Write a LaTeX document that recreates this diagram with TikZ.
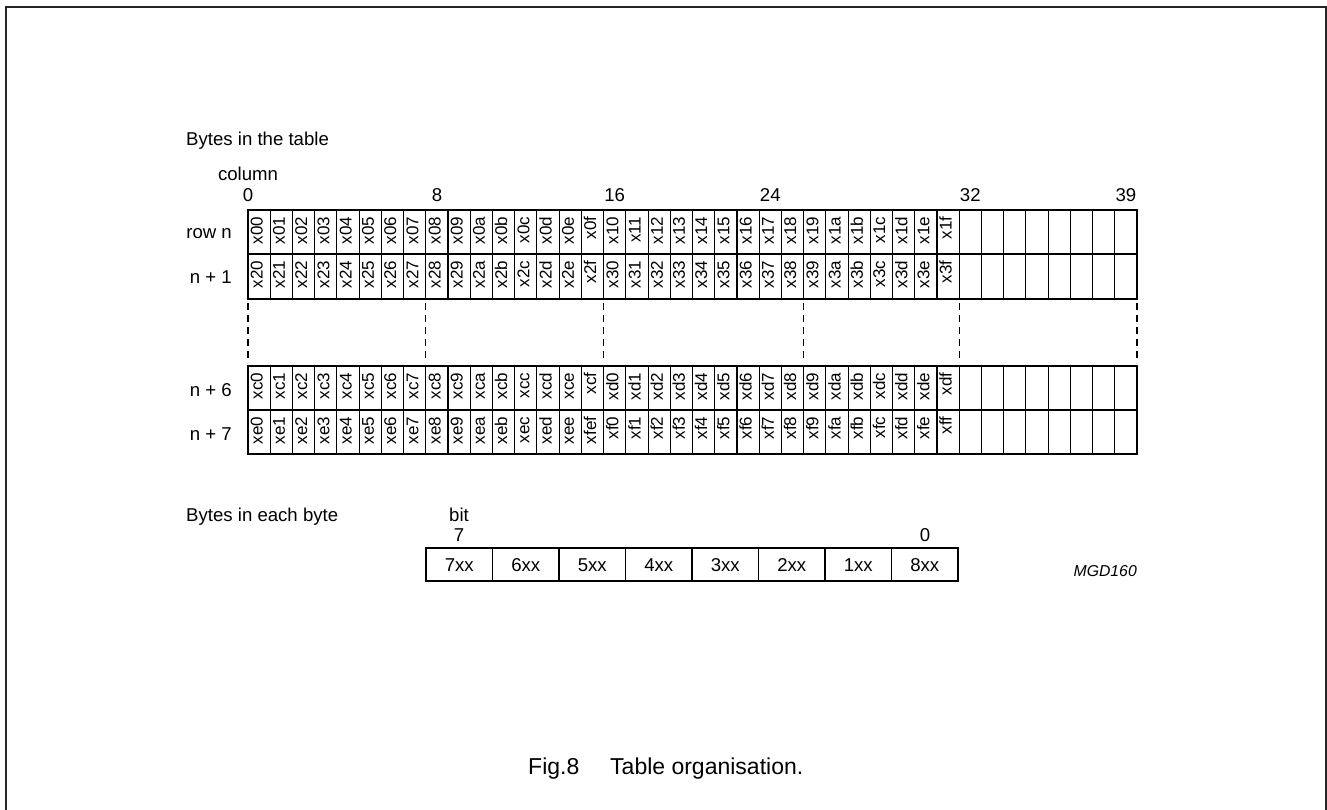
\documentclass[tikz,border=0pt]{standalone}
\usepackage{fontspec}
\setmainfont{Liberation Sans}
\begin{document}
\begin{tikzpicture}[x=1pt,y=-1pt,
  lab/.style={font=\fontsize{18.6}{20}\selectfont, inner sep=0pt},
  cell/.style={font=\fontsize{17}{19}\selectfont, rotate=90, anchor=east, inner sep=0pt, text height=0.72em, text depth=0pt},
  gridline/.style={line width=1.1pt},
  sepline/.style={line width=1.1pt, dash pattern=on 7pt off 5pt},
  frameline/.style={line width=2pt, draw=black!85}]
\useasboundingbox (0,0) rectangle (1327,809);
% frame (open at the bottom)
\draw[frameline] (5.7,815) -- (5.7,7) -- (1326,7) -- (1326,815);
% headings
\node[lab, anchor=base west] (title) at (186,145) {Bytes in the table};
\node[lab, anchor=base] (colw) at (248,180) {column};
\foreach \n/\x in {0/248, 8/437, 16/614.6, 24/770.3, 32/970.3, 39/1125.9}
  \node[lab, anchor=base] (cn\n) at (\x,201) {\n};
% row labels
\node[lab, anchor=base east] (rn) at (232,238) {row n};
\node[lab, anchor=base east] (r1) at (232,283) {n + 1};
\node[lab, anchor=base east] (r6) at (232,396) {n + 6};
\node[lab, anchor=base east] (r7) at (232,440) {n + 7};
% table grid
\foreach \tp/\bt in {210/299, 366/454} {
  \draw[gridline] (248,\tp) rectangle (1137,\bt);
  \foreach \k in {1,...,39}
    \draw[gridline] ({248+\k*22.225},\tp) -- ({248+\k*22.225},\bt);
}
\draw[gridline] (248,254) -- (1137,254);
\draw[gridline] (248,410) -- (1137,410);
% dashed continuation lines
\foreach \k in {0,8,16,25,32,40}
  \draw[sepline] ({248+\k*22.225},303) -- ({248+\k*22.225},363);
% cell labels
\foreach \t [count=\i from 0] in {x00,x01,x02,x03,x04,x05,x06,x07,x08,x09,x0a,x0b,x0c,x0d,x0e,x0f,x10,x11,x12,x13,x14,x15,x16,x17,x18,x19,x1a,x1b,x1c,x1d,x1e,x1f}
  \node[cell] (ra\i) at ({248+(\i+0.5)*22.225},216.5) {\t};
\foreach \t [count=\i from 0] in {x20,x21,x22,x23,x24,x25,x26,x27,x28,x29,x2a,x2b,x2c,x2d,x2e,x2f,x30,x31,x32,x33,x34,x35,x36,x37,x38,x39,x3a,x3b,x3c,x3d,x3e,x3f}
  \node[cell] (rb\i) at ({248+(\i+0.5)*22.225},260.5) {\t};
\foreach \t [count=\i from 0] in {xc0,xc1,xc2,xc3,xc4,xc5,xc6,xc7,xc8,xc9,xca,xcb,xcc,xcd,xce,xcf,xd0,xd1,xd2,xd3,xd4,xd5,xd6,xd7,xd8,xd9,xda,xdb,xdc,xdd,xde,xdf}
  \node[cell] (rc\i) at ({248+(\i+0.5)*22.225},372.5) {\t};
\foreach \t [count=\i from 0] in {xe0,xe1,xe2,xe3,xe4,xe5,xe6,xe7,xe8,xe9,xea,xeb,xec,xed,xee,xfef,xf0,xf1,xf2,xf3,xf4,xf5,xf6,xf7,xf8,xf9,xfa,xfb,xfc,xfd,xfe,xff}
  \node[cell] (rd\i) at ({248+(\i+0.5)*22.225},416.5) {\t};
% bits in each byte
\node[lab, anchor=base west] (bt2) at (186,521.7) {Bytes in each byte};
\node[lab, anchor=base] (bitw) at (459,521.7) {bit};
\node[lab, anchor=base] (b7) at (459,541.7) {7};
\node[lab, anchor=base] (b0) at (925,541.7) {0};
\draw[gridline] (426,548) rectangle (958,581);
\foreach \k in {1,...,7}
  \draw[gridline] ({426+\k*66.5},548) -- ({426+\k*66.5},581);
\foreach \t [count=\i from 0] in {7xx,6xx,5xx,4xx,3xx,2xx,1xx,8xx}
  \node[lab, anchor=base] (bb\i) at ({426+(\i+0.5)*66.5},571.5) {\t};
\node[font=\fontsize{15.8}{17}\selectfont\itshape, anchor=base east, inner sep=0pt] (mgd) at (1137,576.7) {MGD160};
% caption
\node[font=\fontsize{23}{26}\selectfont, anchor=base west, inner sep=0pt] (fig) at (528,774) {Fig.8};
\node[font=\fontsize{23}{26}\selectfont, anchor=base west, inner sep=0pt] (cap) at (610,774) {Table organisation.};
\end{tikzpicture}
\end{document}
